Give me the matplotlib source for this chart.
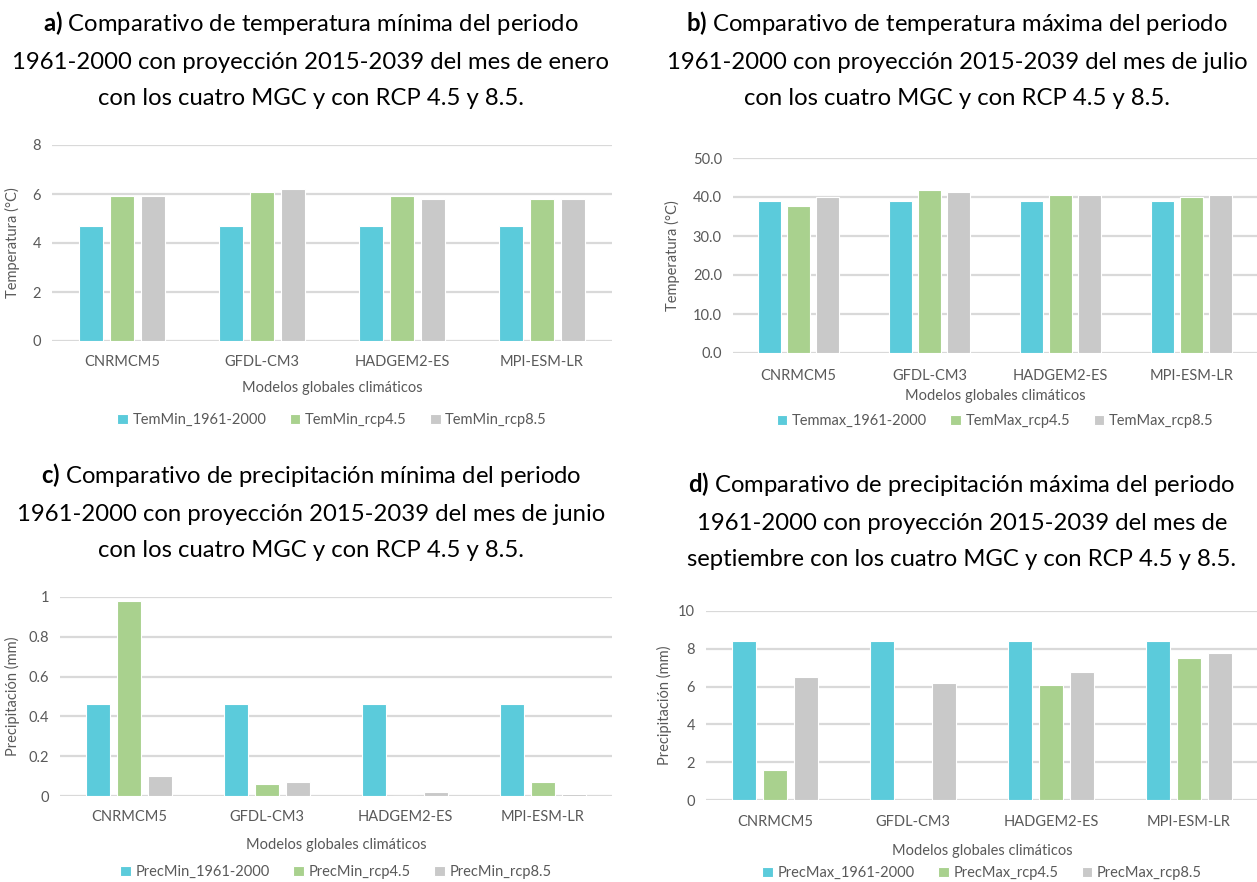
import matplotlib
matplotlib.use("Agg")
import matplotlib.pyplot as plt
import numpy as np

# modelos globales climáticos
modelos = ["CNRMCM5", "GFDL-CM3", "HADGEM2-ES", "MPI-ESM-LR"]

# a) temperatura mínima, enero
temmin_hist = [4.7, 4.7, 4.7, 4.7]
temmin_45 = [5.9, 6.1, 5.9, 5.8]
temmin_85 = [5.9, 6.2, 5.8, 5.8]

# b) temperatura máxima, julio
temmax_hist = [39.0, 39.0, 39.0, 39.0]
temmax_45 = [37.7, 41.8, 40.4, 39.9]
temmax_85 = [40.1, 41.4, 40.6, 40.4]

# c) precipitación mínima, junio
precmin_hist = [0.46, 0.46, 0.46, 0.46]
precmin_45 = [0.98, 0.06, 0.0, 0.07]
precmin_85 = [0.10, 0.07, 0.02, 0.01]

# d) precipitación máxima, septiembre
precmax_hist = [8.4, 8.4, 8.4, 8.4]
precmax_45 = [1.6, 0.02, 6.1, 7.5]
precmax_85 = [6.5, 6.2, 6.75, 7.8]

FONT = "Lato"
plt.rcParams["font.family"] = [FONT, "DejaVu Sans"]
plt.rcParams["mathtext.fontset"] = "custom"
plt.rcParams["mathtext.rm"] = FONT
plt.rcParams["mathtext.bf"] = FONT + ":bold"

W, H = 1257, 882
COLORES = ["#5BCBDB", "#A9D18E", "#C9C9C9"]
GRIS_TXT = "#595959"

fig = plt.figure(figsize=(W / 100, H / 100), dpi=100)


def caja(izq, der, arriba, abajo):
    # convierte pixeles a fracción de figura
    return [izq / W, 1 - abajo / H, (der - izq) / W, (abajo - arriba) / H]


def panel(pos, series, nombres, ymax, paso, fmt, ylabel, ytxt_x, xtick_y, xlab_y, leg_y, titulo, tit_x, tit_y):
    ax = fig.add_axes(caja(*pos))
    x = np.arange(len(modelos))
    ancho = 0.175
    desp = 0.222
    for i, (vals, nom) in enumerate(zip(series, nombres)):
        ax.bar(x + (i - 1) * desp, vals, width=ancho, color=COLORES[i],
               edgecolor="white", linewidth=0.8, label=nom, zorder=3)
    ax.set_xlim(-0.5, 3.5)
    ax.set_ylim(0, ymax)
    ticks = np.arange(0, ymax + paso / 2, paso)
    ax.set_yticks(ticks)
    ax.set_yticklabels([fmt.format(t) for t in ticks], fontsize=10.5, color=GRIS_TXT)
    ax.yaxis.grid(True, color="#D9D9D9", linewidth=1.6, zorder=0)
    ax.set_xticks(x)
    ax.set_xticklabels([])
    for s in ax.spines.values():
        s.set_visible(False)
    ax.tick_params(length=0, pad=8)
    # etiquetas de categorías
    for xi, m in zip(x, modelos):
        px = pos[0] + (xi + 0.5) * (pos[1] - pos[0]) / 4
        fig.text(px / W, 1 - xtick_y / H, m, ha="center", va="center", fontsize=10.5, color=GRIS_TXT)
    fig.text((pos[0] + pos[1]) / 2 / W, 1 - xlab_y / H, "Modelos globales climáticos",
             ha="center", va="center", fontsize=10.5, color=GRIS_TXT)
    fig.text(ytxt_x / W, 1 - (pos[2] + pos[3]) / 2 / H, ylabel, rotation=90,
             ha="center", va="center", fontsize=10.5, color=GRIS_TXT)
    fig.legend(*ax.get_legend_handles_labels(), loc="center",
               bbox_to_anchor=((pos[0] + pos[1]) / 2 / W, 1 - leg_y / H), ncol=3,
               frameon=False, fontsize=10.5, handlelength=0.75, handleheight=0.75,
               handletextpad=0.3, columnspacing=1.6, labelcolor=GRIS_TXT)
    fig.text(tit_x / W, 1 - tit_y / H, titulo, ha="center", va="top",
             fontsize=17.2, color="black", linespacing=1.87)
    return ax


panel((52, 612, 145, 341), [temmin_hist, temmin_45, temmin_85],
      ["TemMin_1961-2000", "TemMin_rcp4.5", "TemMin_rcp8.5"], 8, 2, "{:.0f}",
      "Temperatura (°C)", 12, 362, 388, 420,
      "$\\bf{a)}$ Comparativo de temperatura mínima del periodo\n"
      "1961-2000 con proyección 2015-2039 del mes de enero\n"
      "con los cuatro MGC y con RCP 4.5 y 8.5.", 311, 9)

panel((733, 1257, 158, 353), [temmax_hist, temmax_45, temmax_85],
      ["Temmax_1961-2000", "TemMax_rcp4.5", "TemMax_rcp8.5"], 50, 10, "{:.1f}",
      "Temperatura (°C)", 672, 376, 396, 421,
      "$\\bf{b)}$ Comparativo de temperatura máxima del periodo\n"
      "1961-2000 con proyección 2015-2039 del mes de julio\n"
      "con los cuatro MGC y con RCP 4.5 y 8.5.", 957, 9)

panel((60, 612, 597, 796), [precmin_hist, precmin_45, precmin_85],
      ["PrecMin_1961-2000", "PrecMin_rcp4.5", "PrecMin_rcp8.5"], 1.0, 0.2, "{:g}",
      "Precipitación (mm)", 12, 817, 845, 872,
      "$\\bf{c)}$ Comparativo de precipitación mínima del periodo\n"
      "1961-2000 con proyección 2015-2039 del mes de junio\n"
      "con los cuatro MGC y con RCP 4.5 y 8.5.", 311, 461)

panel((706, 1258, 611, 800), [precmax_hist, precmax_45, precmax_85],
      ["PrecMax_1961-2000", "PrecMax_rcp4.5", "PrecMax_rcp8.5"], 10, 2, "{:.0f}",
      "Precipitación (mm)", 664, 822, 851, 873,
      "$\\bf{d)}$ Comparativo de precipitación máxima del periodo\n"
      "1961-2000 con proyección 2015-2039 del mes de\n"
      "septiembre con los cuatro MGC y con RCP 4.5 y 8.5.", 962, 470)

fig.savefig("out.png", dpi=100)
